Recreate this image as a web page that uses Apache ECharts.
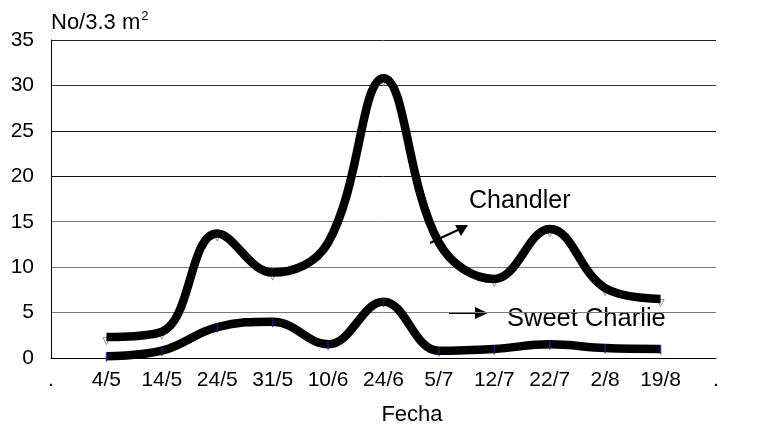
<!DOCTYPE html>
<html>
<head>
<meta charset="utf-8">
<script src="https://cdn.jsdelivr.net/npm/echarts@6/dist/echarts.min.js"></script>
<style>html,body{margin:0;padding:0;background:#fff;}#c{width:761px;height:427px;}</style>
</head>
<body>
<div id="c"></div>
<script>
var categories = ['.', '4/5', '14/5', '24/5', '31/5', '10/6', '24/6', '5/7', '12/7', '22/7', '2/8', '19/8', '.'];
var dates = ['4/5', '14/5', '24/5', '31/5', '10/6', '24/6', '5/7', '12/7', '22/7', '2/8', '19/8'];
var chandler = [2.3, 2.9, 13.7, 9.4, 12.7, 30.8, 12.7, 8.7, 14.2, 7.7, 6.5];
var sweetCharlie = [0.2, 0.8, 3.4, 4.0, 1.5, 6.2, 0.8, 1.0, 1.5, 1.1, 1.0];
var yTicks = [0, 5, 10, 15, 20, 25, 30, 35];

function pairs(vals) { return dates.map(function (d, i) { return [i + 1, vals[i]]; }); }

var chart = echarts.init(document.getElementById('c'), null, {renderer: 'canvas'});
var font = 'Liberation Sans, Arial, sans-serif';
chart.setOption({
  animation: false,
  grid: {left: 51, right: 45, top: 40, bottom: 69},
  xAxis: {
    type: 'category', data: categories, boundaryGap: false,
    axisLine: {lineStyle: {color: '#000', width: 1}},
    axisTick: {show: false},
    axisLabel: {color: '#000', fontSize: 21, fontFamily: font, margin: 12, interval: 0},
    splitLine: {show: false}
  },
  yAxis: {
    type: 'value', min: yTicks[0], max: yTicks[yTicks.length - 1], interval: 5,
    axisLine: {show: true, lineStyle: {color: '#000', width: 1}},
    axisTick: {show: false},
    axisLabel: {color: '#000', fontSize: 21, fontFamily: font, margin: 17},
    splitLine: {show: true, lineStyle: {color: ['#000', '#7a7a7a', '#7a7a7a', '#7a7a7a', '#111', '#111', '#333', '#222'], width: 1}}
  },
  series: [
    {
      name: 'Chandler markers', type: 'scatter', data: pairs(chandler), z: 1,
      symbol: 'path://M0,0 L5,10 L10,0 Z', symbolSize: [7, 7], symbolOffset: [0, 4],
      itemStyle: {color: 'rgba(0,0,0,0)', borderColor: '#777', borderWidth: 1}
    },
    {
      name: 'Chandler', type: 'line', data: pairs(chandler), smooth: 0.4, z: 2,
      showSymbol: false, lineStyle: {color: '#000', width: 8.5}
    },
    {
      name: 'Sweet Charlie', type: 'line', data: pairs(sweetCharlie), smooth: 0.4, z: 2,
      showSymbol: false, lineStyle: {color: '#000', width: 8.5}
    },
    {
      name: 'Sweet Charlie markers', type: 'scatter', data: pairs(sweetCharlie), z: 3,
      symbol: 'rect', symbolSize: [1.5, 9], symbolOffset: [0, 1],
      itemStyle: {color: '#2020a0'}
    }
  ],
  graphic: [
    {type: 'text', left: 51, top: 10, style: {
      text: '{a|No/3.3 m}{s|2}',
      rich: {
        a: {fontSize: 22, fontFamily: font, fill: '#000'},
        s: {fontSize: 13, fontFamily: font, fill: '#000', padding: [0, 0, 13, 1]}
      }
    }},
    {type: 'text', x: 412, y: 415, style: {text: 'Fecha', fontSize: 22, fontFamily: font, fill: '#000', align: 'center', verticalAlign: 'middle'}},
    {type: 'text', left: 469, top: 189, style: {text: 'Chandler', fontSize: 25, fontFamily: font, fill: '#000'}},
    {type: 'text', left: 507, top: 306, style: {text: 'Sweet Charlie', fontSize: 25.5, fontFamily: font, fill: '#000'}},
    {type: 'line', shape: {x1: 430, y1: 243, x2: 460, y2: 229}, style: {stroke: '#000', lineWidth: 2}},
    {type: 'polygon', shape: {points: [[468, 225], [455, 225], [461, 236]]}, style: {fill: '#000'}},
    {type: 'line', shape: {x1: 449, y1: 313, x2: 478, y2: 313}, style: {stroke: '#000', lineWidth: 2}},
    {type: 'polygon', shape: {points: [[488, 313], [475, 307], [475, 319]]}, style: {fill: '#000'}}
  ]
});
</script>
</body>
</html>
